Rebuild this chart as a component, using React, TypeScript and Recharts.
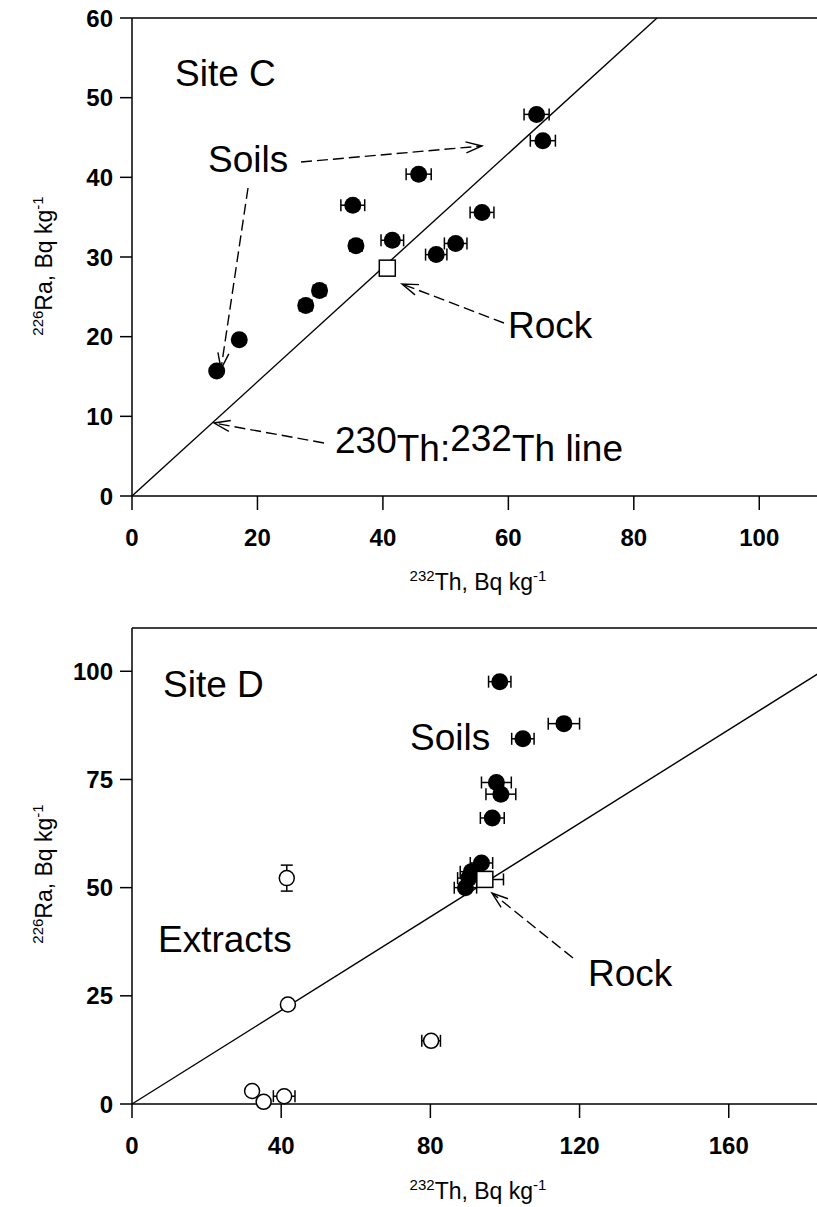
import React from 'react'
import { ScatterChart, Scatter, XAxis, YAxis, ErrorBar, ReferenceLine } from 'recharts'

// Site C: soils (filled), rock (open square)
const soilsCx = [13.5, 17.1, 27.7, 29.9, 35.2, 35.7, 41.5, 45.7, 48.5, 51.6, 55.8, 64.5, 65.5]
const soilsCy = [15.7, 19.6, 23.9, 25.8, 36.5, 31.4, 32.1, 40.4, 30.3, 31.7, 35.6, 47.9, 44.6]
const soilsCxErr = [0.6, 0.6, 1.0, 1.0, 1.9, 1.0, 1.8, 2.0, 1.7, 1.8, 1.9, 2.0, 2.0]
const rockCx = [40.7]
const rockCy = [28.6]
const thLineCx = [0, 83.7]
const thLineCy = [0, 60]
const ticksCx = [0, 20, 40, 60, 80, 100]
const ticksCy = [0, 10, 20, 30, 40, 50, 60]

// Site D: soils, rock, extracts (open circles)
const soilsDx = [98.6, 115.8, 104.8, 97.7, 98.9, 96.6, 93.7, 91.0, 90.3, 89.4]
const soilsDy = [97.6, 87.9, 84.4, 74.3, 71.6, 66.1, 55.7, 53.7, 52.2, 50.0]
const soilsDxErr = [3.0, 4.2, 3.0, 4.0, 4.0, 3.2, 3.0, 3.0, 3.0, 3.0]
const rockDx = [94.6]
const rockDy = [51.9]
const rockDxErr = [5.0]
const rockDyErr = [1.8]
const extractsDx = [41.5, 41.8, 80.2, 32.2, 35.3, 40.8]
const extractsDy = [52.2, 23.0, 14.6, 3.0, 0.5, 1.8]
const extractsDxErr = [0.6, 1.2, 2.5, 0, 0, 2.9]
const extractsDyErr = [3.0, 0.8, 0, 0, 0, 0]
const thLineDx = [0, 185]
const thLineDy = [0, 100]
const ticksDx = [0, 40, 80, 120, 160]
const ticksDy = [0, 25, 50, 75, 100]

const zip = (xs: number[], ys: number[], xe?: number[], ye?: number[]) =>
  xs.map((x, i) => ({ x, y: ys[i], xErr: xe ? xe[i] : 0, yErr: ye ? ye[i] : 0 }))

const FONT = '"Liberation Sans", Arial, Helvetica, sans-serif'
const BLACK = '#000'

const filledDot = (p: any) => <circle cx={p.cx} cy={p.cy} r={8.5} fill={BLACK} />
const openDot = (p: any) => (
  <circle cx={p.cx} cy={p.cy} r={7.5} fill="#fff" stroke={BLACK} strokeWidth={1.5} />
)
const openSquare = (p: any) => (
  <rect x={p.cx - 8} y={p.cy - 8} width={16} height={16} fill="#fff" stroke={BLACK} strokeWidth={1.5} />
)

const tickStyle = { fill: BLACK, fontSize: 24, fontWeight: 'bold', fontFamily: FONT }
const axisStroke = { stroke: BLACK, strokeWidth: 1.5 }

const Arrow = ({ from, to }: { from: number[]; to: number[] }) => {
  const [x1, y1] = from
  const [x2, y2] = to
  const a = Math.atan2(y2 - y1, x2 - x1)
  const len = 17
  const s = 0.33
  const b1 = [x2 - len * Math.cos(a - s), y2 - len * Math.sin(a - s)]
  const b2 = [x2 - len * Math.cos(a + s), y2 - len * Math.sin(a + s)]
  return (
    <g stroke={BLACK} strokeWidth={1.4} fill="none">
      <line x1={x1} y1={y1} x2={x2} y2={y2} strokeDasharray="11 5" />
      <polyline points={`${b1[0]},${b1[1]} ${x2},${y2} ${b2[0]},${b2[1]}`} />
    </g>
  )
}

const XTitle = ({ x, y }: { x: number; y: number }) => (
  <text x={x} y={y} textAnchor="middle" fontSize={23} fontFamily={FONT} fill={BLACK}>
    <tspan fontSize={15} dy={-9}>232</tspan>
    <tspan dy={9}>Th, Bq kg</tspan>
    <tspan fontSize={15} dy={-9}>-1</tspan>
  </text>
)

const YTitle = ({ x, y }: { x: number; y: number }) => (
  <text
    x={x}
    y={y}
    transform={`rotate(-90 ${x} ${y})`}
    textAnchor="middle"
    fontSize={23}
    fontFamily={FONT}
    fill={BLACK}
  >
    <tspan fontSize={15} dy={-9}>226</tspan>
    <tspan dy={9}>Ra, Bq kg</tspan>
    <tspan fontSize={15} dy={-9}>-1</tspan>
  </text>
)

const SiteC = () => (
  <ScatterChart width={830} height={610} margin={{ top: 18, right: 8, bottom: 0, left: 0 }}>
    <XAxis
      type="number"
      dataKey="x"
      domain={[0, 110]}
      ticks={ticksCx}
      height={114}
      tickSize={14}
      tickMargin={19}
      tick={tickStyle}
      axisLine={axisStroke}
      tickLine={axisStroke}
    />
    <YAxis
      type="number"
      dataKey="y"
      domain={[0, 60]}
      ticks={ticksCy}
      width={132}
      tickSize={12}
      tickMargin={7}
      tick={tickStyle}
      axisLine={axisStroke}
      tickLine={axisStroke}
    />
    <ReferenceLine y={60} stroke={BLACK} strokeWidth={1.5} />
    <ReferenceLine
      segment={[
        { x: thLineCx[0], y: thLineCy[0] },
        { x: thLineCx[1], y: thLineCy[1] },
      ]}
      stroke={BLACK}
      strokeWidth={1.4}
    />
    <Scatter data={zip(soilsCx, soilsCy, soilsCxErr)} shape={filledDot} isAnimationActive={false}>
      <ErrorBar dataKey="xErr" direction="x" width={6} stroke={BLACK} strokeWidth={1.5} />
    </Scatter>
    <Scatter data={zip(rockCx, rockCy)} shape={openSquare} isAnimationActive={false} />
  </ScatterChart>
)

const SiteD = () => (
  <ScatterChart width={830} height={607} margin={{ top: 17, right: 8, bottom: 0, left: 0 }}>
    <XAxis
      type="number"
      dataKey="x"
      domain={[0, 185]}
      ticks={ticksDx}
      height={114}
      tickSize={14}
      tickMargin={19}
      tick={tickStyle}
      axisLine={axisStroke}
      tickLine={axisStroke}
    />
    <YAxis
      type="number"
      dataKey="y"
      domain={[0, 110]}
      ticks={ticksDy}
      width={132}
      tickSize={12}
      tickMargin={7}
      tick={tickStyle}
      axisLine={axisStroke}
      tickLine={axisStroke}
    />
    <ReferenceLine y={110} stroke={BLACK} strokeWidth={1.5} />
    <ReferenceLine
      segment={[
        { x: thLineDx[0], y: thLineDy[0] },
        { x: thLineDx[1], y: thLineDy[1] },
      ]}
      stroke={BLACK}
      strokeWidth={1.4}
    />
    <Scatter data={zip(extractsDx, extractsDy, extractsDxErr, extractsDyErr)} shape={openDot} isAnimationActive={false}>
      <ErrorBar dataKey="xErr" direction="x" width={6} stroke={BLACK} strokeWidth={1.5} />
      <ErrorBar dataKey="yErr" direction="y" width={6} stroke={BLACK} strokeWidth={1.5} />
    </Scatter>
    <Scatter data={zip(soilsDx, soilsDy, soilsDxErr)} shape={filledDot} isAnimationActive={false}>
      <ErrorBar dataKey="xErr" direction="x" width={6} stroke={BLACK} strokeWidth={1.5} />
    </Scatter>
    <Scatter data={zip(rockDx, rockDy, rockDxErr, rockDyErr)} shape={openSquare} isAnimationActive={false}>
      <ErrorBar dataKey="xErr" direction="x" width={6} stroke={BLACK} strokeWidth={1.5} />
      <ErrorBar dataKey="yErr" direction="y" width={6} stroke={BLACK} strokeWidth={1.5} />
    </Scatter>
  </ScatterChart>
)

const label = { fontSize: 37, fontFamily: FONT, fill: BLACK }

export default function App() {
  return (
    <div
      style={{
        position: 'absolute',
        left: 0,
        top: 0,
        width: 817,
        height: 1207,
        overflow: 'hidden',
        background: '#fff',
      }}
    >
      <div style={{ position: 'absolute', left: 0, top: 0 }}>
        <SiteC />
      </div>
      <div style={{ position: 'absolute', left: 0, top: 611 }}>
        <SiteD />
      </div>
      <svg
        width={817}
        height={1207}
        style={{ position: 'absolute', left: 0, top: 0, pointerEvents: 'none' }}
      >
        {/* Site C annotations */}
        <text x={175} y={86} {...label}>Site C</text>
        <text x={208} y={172} {...label}>Soils</text>
        <text x={508} y={338} {...label}>Rock</text>
        <text x={335} y={461} {...label}>
          <tspan dy={-8}>230</tspan>
          <tspan dy={8}>Th:</tspan>
          <tspan dy={-10}>232</tspan>
          <tspan dy={10}>Th line</tspan>
        </text>
        <Arrow from={[301, 162]} to={[482, 146]} />
        <Arrow from={[248, 188]} to={[221, 369]} />
        <Arrow from={[504, 323]} to={[402, 284]} />
        <Arrow from={[324, 443]} to={[214, 423]} />
        <XTitle x={478} y={590} />
        <YTitle x={52} y={266} />

        {/* Site D annotations */}
        <text x={163} y={697} {...label}>Site D</text>
        <text x={410} y={750} {...label}>Soils</text>
        <text x={158} y={952} {...label}>Extracts</text>
        <text x={588} y={986} {...label}>Rock</text>
        <Arrow from={[573, 958]} to={[492, 893]} />
        <XTitle x={478} y={1199} />
        <YTitle x={52} y={874} />
      </svg>
    </div>
  )
}
